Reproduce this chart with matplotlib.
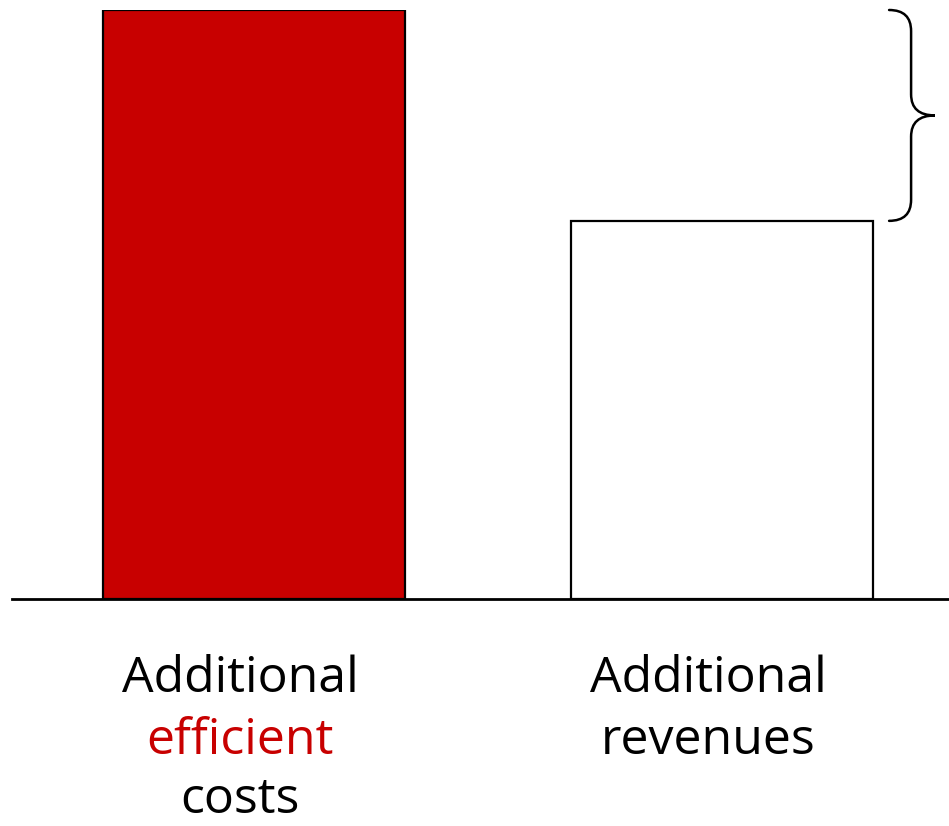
import matplotlib
matplotlib.use("Agg")
import matplotlib.pyplot as plt
from matplotlib.path import Path
from matplotlib.patches import PathPatch

# bar data
categories = ["costs", "revenues"]
values = [100, 64.2]
bar_colors = ["#c80000", "white"]
label_lines = [
    [("Additional", "black"), ("efficient", "#c80000"), ("costs", "black")],
    [("Additional", "black"), ("revenues", "black")],
]

W, H = 949, 826
fig = plt.figure(figsize=(W / 100, H / 100), dpi=100)
ax = fig.add_axes([12 / W, (H - 599) / H, 1 - 12 / W, (599 - 10) / H])

x = [0, 1]
ax.bar(x, values, width=0.645, color=bar_colors, edgecolor="black",
       linewidth=1.6, zorder=2)
ax.set_xlim(-0.517, 1.485)
ax.set_ylim(0, max(values))

for s in ["top", "right", "left"]:
    ax.spines[s].set_visible(False)
ax.spines["bottom"].set_linewidth(2)
ax.spines["bottom"].set_zorder(3)
ax.set_xticks([])
ax.set_yticks([])

# curly brace spanning the gap between the two bar heights
lo, hi = values[1], values[0]
mid = (lo + hi) / 2
x0, x1, x2 = 1.357, 1.404, 1.455
r = (hi - lo) * 0.1
verts = [
    (x0, hi), (x1, hi), (x1, hi - r),
    (x1, mid + r),
    (x1, mid), (x2, mid),
    (x1, mid), (x1, mid - r),
    (x1, lo + r),
    (x1, lo), (x0, lo),
]
codes = [Path.MOVETO, Path.CURVE3, Path.CURVE3,
         Path.LINETO,
         Path.CURVE3, Path.CURVE3,
         Path.CURVE3, Path.CURVE3,
         Path.LINETO,
         Path.CURVE3, Path.CURVE3]
ax.add_patch(PathPatch(Path(verts, codes), facecolor="none", edgecolor="black",
                       linewidth=1.8, clip_on=False, capstyle="round"))

# category labels below the axis
offsets = [93, 155, 214]
for xi, lines in zip(x, label_lines):
    for (txt, col), off in zip(lines, offsets):
        ax.annotate(txt, xy=(xi - 0.03, 0), xycoords="data",
                    xytext=(0, -off * 0.72), textcoords="offset points",
                    ha="center", va="baseline", color=col,
                    fontsize=36, family="Open Sans", annotation_clip=False)

fig.savefig("out.png", dpi=100)
